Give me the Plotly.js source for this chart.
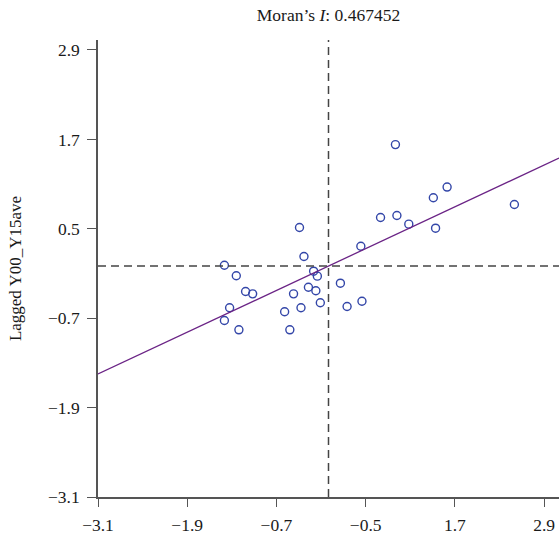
<!DOCTYPE html>
<html>
<head>
<meta charset="utf-8">
<script src="https://cdn.plot.ly/plotly-3.0.1.min.js"></script>
<style>html,body{margin:0;padding:0;background:#fff;}#chart{width:559px;height:537px;}</style>
</head>
<body>
<div id="chart"></div>
<script>
// Standardized values (x) and spatially lagged values (y)
const zValues = [0.90, 1.595, 1.41, 2.50, 0.70, 0.92, 1.08, 1.44, -0.39, 0.435,
  -0.33, -1.40, -1.24, -0.20, -0.15, 0.16, -1.115, -1.02, -0.47, -0.27,
  -0.17, -0.11, 0.45, 0.25, -1.33, -0.37, -0.59, -1.40, -1.205, -0.52];
const laggedValues = [1.63, 1.06, 0.916, 0.826, 0.652, 0.679, 0.562, 0.508, 0.517, 0.266,
  0.128, 0.011, -0.131, -0.069, -0.136, -0.230, -0.342, -0.373, -0.373, -0.284,
  -0.332, -0.493, -0.472, -0.543, -0.560, -0.560, -0.614, -0.731, -0.856, -0.856];
const moransI = 0.467452;
const fitIntercept = 0.0;
const fitX = [-3.1, 3.1];
const meanX = 0.0;
const meanY = 0.0;
const tickValues = [-3.1, -1.9, -0.7, 0.5, 1.7, 2.9];
const xTickLabels = ["\u22123.1", "\u22121.9", "\u22120.7", "\u22120.5", "1.7", "2.9"];
const yTickLabels = ["\u22123.1", "\u22121.9", "\u22120.7", "0.5", "1.7", "2.9"];

const serif = "Liberation Serif, Times New Roman, serif";
const axisColor = "#555555";
const textColor = "#1a1a1a";

const traces = [
  {
    x: zValues, y: laggedValues, type: "scatter", mode: "markers",
    marker: {symbol: "circle-open", size: 8, color: "#3346a8", line: {width: 1.4, color: "#3346a8"}},
    hoverinfo: "x+y", showlegend: false
  },
  {
    x: fitX, y: fitX.map(v => moransI * v + fitIntercept), type: "scatter", mode: "lines",
    line: {color: "#6b2486", width: 1.3}, showlegend: false, hoverinfo: "skip"
  }
];

const layout = {
  width: 559, height: 537,
  margin: {l: 98, r: 0, t: 40, b: 40, pad: 0},
  paper_bgcolor: "#ffffff", plot_bgcolor: "#ffffff",
  font: {family: serif, size: 17, color: textColor},
  title: {text: "Moran\u2019s <i>I</i>: 0.467452", font: {family: serif, size: 17.5, color: textColor},
    x: 0.5, xref: "paper", xanchor: "center", y: 1 - 15/537, yref: "container", yanchor: "middle"},
  xaxis: {
    range: [-3.1, 3.1], tickmode: "array", tickvals: tickValues, ticktext: xTickLabels,
    showgrid: false, zeroline: false, showline: true, linecolor: axisColor, linewidth: 1.5,
    ticks: "outside", ticklen: 8, tickwidth: 1.3, tickcolor: axisColor, ticklabelstandoff: 3,
    tickfont: {family: serif, size: 17.5, color: textColor}, fixedrange: true
  },
  yaxis: {
    range: [-3.1, 3.034], tickmode: "array", tickvals: tickValues, ticktext: yTickLabels,
    showgrid: false, zeroline: false, showline: true, linecolor: axisColor, linewidth: 1.5,
    ticks: "outside", ticklen: 9, tickwidth: 1.3, tickcolor: axisColor, ticklabelstandoff: 4,
    tickfont: {family: serif, size: 17.5, color: textColor}, fixedrange: true,
    title: {text: "Lagged Y00_Y15ave", font: {family: serif, size: 17, color: textColor}, standoff: 22}
  },
  shapes: [
    {type: "line", xref: "x", yref: "paper", x0: meanX, x1: meanX, y0: 0, y1: 1,
      line: {color: "#444444", width: 1.5, dash: "8px,5px"}},
    {type: "line", xref: "paper", yref: "y", x0: 0, x1: 1, y0: meanY, y1: meanY,
      line: {color: "#444444", width: 1.5, dash: "8px,5px"}}
  ]
};

Plotly.newPlot("chart", traces, layout, {displayModeBar: false});
</script>
</body>
</html>
